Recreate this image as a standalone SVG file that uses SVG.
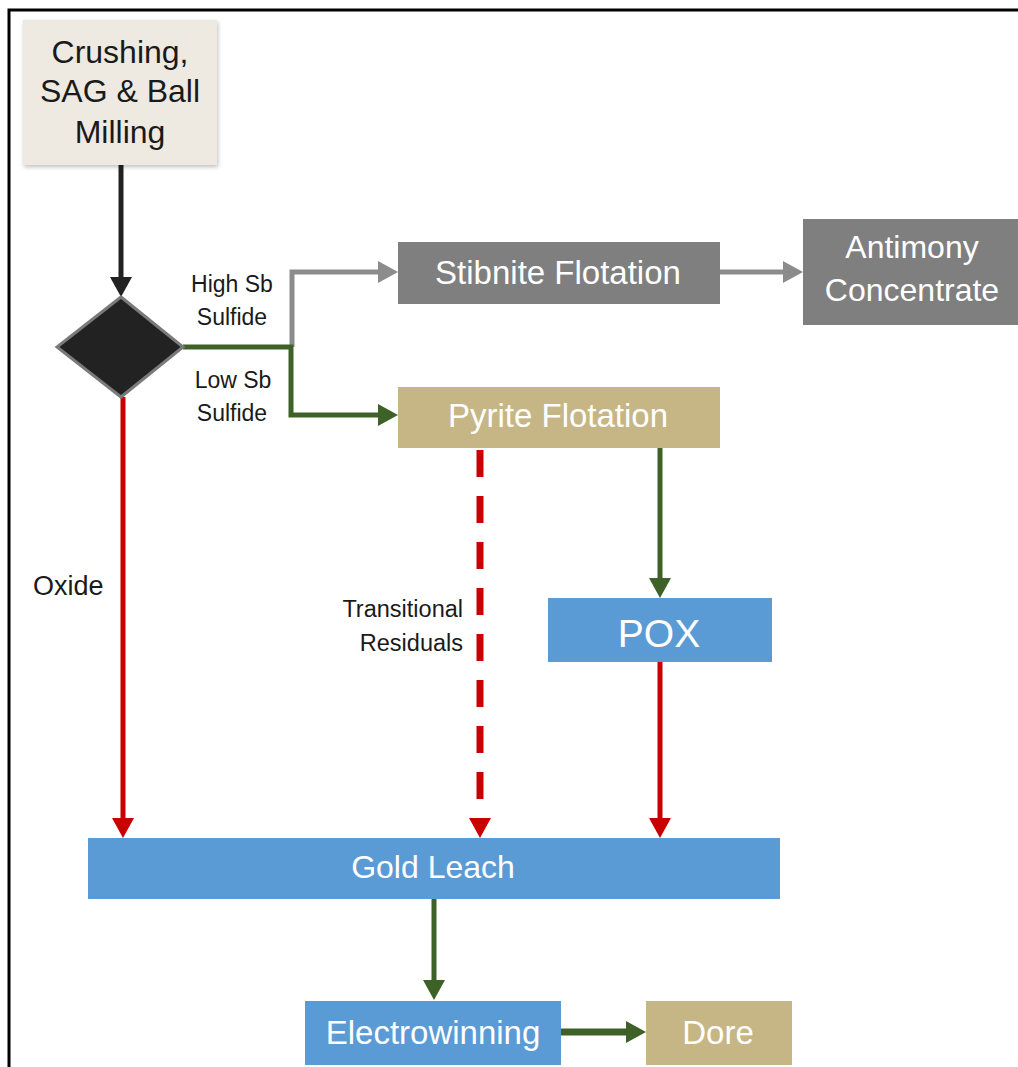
<svg xmlns="http://www.w3.org/2000/svg" width="1018" height="1067" viewBox="0 0 1018 1067">
<style>
  .t { font-family: "Liberation Sans", Arial, sans-serif; }
  .w { fill: #ffffff; text-anchor: middle; }
  .k { fill: #1a1a1a; }
  .ln { fill: none; stroke-linejoin: miter; }
  .blue { fill: #5B9BD5; }
  .khaki { fill: #C6B685; }
  .gray { fill: #7F7F7F; }
</style>
<defs>
  <marker id="ah-black" markerUnits="userSpaceOnUse" markerWidth="22" markerHeight="22" refX="2" refY="11" orient="auto" viewBox="0 0 20 22"><path d="M0,0 L20,11 L0,22 z" fill="#222222"/></marker>
  <marker id="ah-red" markerUnits="userSpaceOnUse" markerWidth="22" markerHeight="22" refX="2" refY="11" orient="auto" viewBox="0 0 20 22"><path d="M0,0 L20,11 L0,22 z" fill="#C80000"/></marker>
  <marker id="ah-green" markerUnits="userSpaceOnUse" markerWidth="22" markerHeight="22" refX="2" refY="11" orient="auto" viewBox="0 0 20 22"><path d="M0,0 L20,11 L0,22 z" fill="#3E6127"/></marker>
  <marker id="ah-gray" markerUnits="userSpaceOnUse" markerWidth="22" markerHeight="22" refX="2" refY="11" orient="auto" viewBox="0 0 20 22"><path d="M0,0 L20,11 L0,22 z" fill="#8C8C8C"/></marker>
  <filter id="sh" x="-10%" y="-10%" width="125%" height="125%"><feDropShadow dx="1" dy="2" stdDeviation="2" flood-color="#000" flood-opacity="0.25"/></filter>
</defs>
<rect width="1018" height="1067" fill="#ffffff"/>
<path d="M9,1067 V10 H1018" fill="none" stroke="#000" stroke-width="3"/>

<g id="connectors">
  <path class="ln" d="M121,165 V279" stroke="#222222" stroke-width="5" marker-end="url(#ah-black)"/>
  <path class="ln" d="M292,347 V272 H380" stroke="#8C8C8C" stroke-width="5" marker-end="url(#ah-gray)"/>
  <path class="ln" d="M183,347 H291 V415 H380" stroke="#3E6127" stroke-width="5" marker-end="url(#ah-green)"/>
  <path class="ln" d="M720,272 H785" stroke="#8C8C8C" stroke-width="5" marker-end="url(#ah-gray)"/>
  <path class="ln" d="M123,397 V820" stroke="#C80000" stroke-width="5" marker-end="url(#ah-red)"/>
  <path class="ln" d="M480,450 V820" stroke="#C80000" stroke-width="7" stroke-dasharray="27 19" marker-end="url(#ah-red)"/>
  <path class="ln" d="M660,448 V580" stroke="#3E6127" stroke-width="5" marker-end="url(#ah-green)"/>
  <path class="ln" d="M660,662 V820" stroke="#C80000" stroke-width="5" marker-end="url(#ah-red)"/>
  <path class="ln" d="M434,899 V982" stroke="#3E6127" stroke-width="5" marker-end="url(#ah-green)"/>
  <path class="ln" d="M561,1032 H628" stroke="#3E6127" stroke-width="7" marker-end="url(#ah-green)"/>
  <text class="t k" x="232" y="292" font-size="23" text-anchor="middle">High Sb</text>
  <text class="t k" x="232" y="325" font-size="23" text-anchor="middle">Sulfide</text>
  <text class="t k" x="233" y="388" font-size="23" text-anchor="middle">Low Sb</text>
  <text class="t k" x="232" y="421" font-size="23" text-anchor="middle">Sulfide</text>
  <text class="t k" x="33" y="595" font-size="27">Oxide</text>
  <text class="t k" x="463" y="617" font-size="23.5" text-anchor="end">Transitional</text>
  <text class="t k" x="463" y="651" font-size="23.5" text-anchor="end">Residuals</text>
</g>

<g id="crushing">
  <rect x="23" y="20" width="194" height="145" fill="#EEEAE2" filter="url(#sh)"/>
  <text class="t k" x="120" y="63" font-size="32" text-anchor="middle">Crushing,</text>
  <text class="t k" x="120" y="102" font-size="32" text-anchor="middle">SAG &amp; Ball</text>
  <text class="t k" x="120" y="143" font-size="32" text-anchor="middle">Milling</text>
</g>

<g id="decision">
  <path d="M121,297 L183,347 L121,397 L57,347 z" fill="#222222" stroke="#7A7A7A" stroke-width="3"/>
</g>

<g id="stibnite">
  <rect class="gray" x="398" y="242" width="322" height="62"/>
  <text class="t w" x="558" y="284" font-size="33">Stibnite Flotation</text>
</g>

<g id="antimony">
  <rect class="gray" x="803" y="219" width="215" height="106"/>
  <text class="t w" x="912" y="258" font-size="32">Antimony</text>
  <text class="t w" x="912" y="301" font-size="32">Concentrate</text>
</g>

<g id="pyrite">
  <rect class="khaki" x="398" y="387" width="322" height="61"/>
  <text class="t w" x="558" y="427" font-size="33">Pyrite Flotation</text>
</g>

<g id="pox">
  <rect class="blue" x="548" y="598" width="224" height="64"/>
  <text class="t w" x="659" y="647" font-size="39">POX</text>
</g>

<g id="goldleach">
  <rect class="blue" x="88" y="838" width="692" height="61"/>
  <text class="t w" x="433" y="878" font-size="32">Gold Leach</text>
</g>

<g id="electrowinning">
  <rect class="blue" x="305" y="1001" width="256" height="64"/>
  <text class="t w" x="433" y="1044" font-size="33">Electrowinning</text>
</g>

<g id="dore">
  <rect class="khaki" x="646" y="1001" width="146" height="64"/>
  <text class="t w" x="718" y="1044" font-size="33">Dore</text>
</g>
</svg>
